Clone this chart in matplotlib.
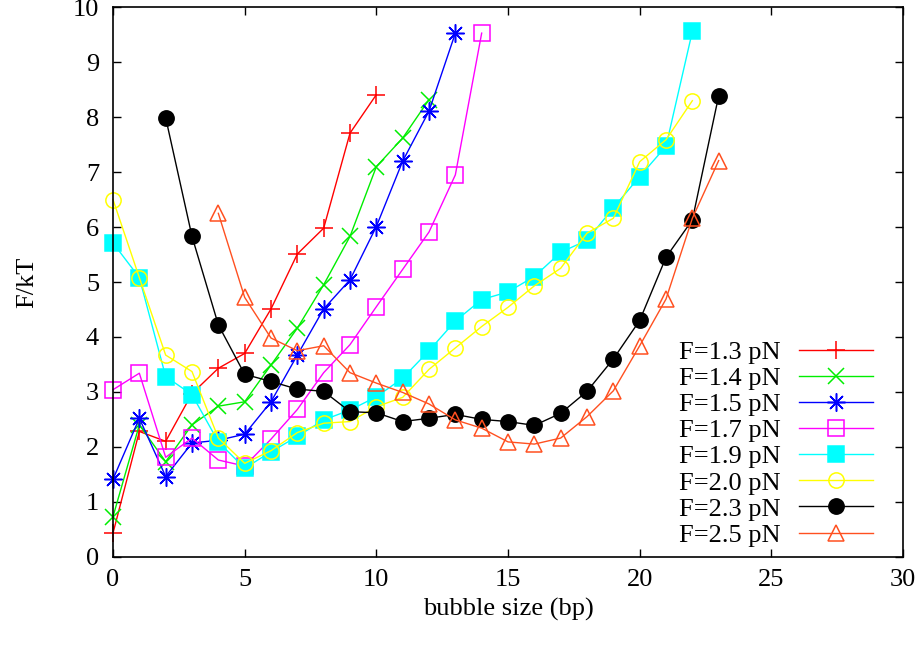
import numpy as np
import matplotlib
matplotlib.use('Agg')
import matplotlib.pyplot as plt

# free energy of a bubble vs bubble size, for several forces
plt.rcParams['font.family'] = ['Liberation Serif', 'DejaVu Serif']
plt.rcParams['font.size'] = 19

labels = ['F=1.3 pN', 'F=1.4 pN', 'F=1.5 pN', 'F=1.7 pN',
          'F=1.9 pN', 'F=2.0 pN', 'F=2.3 pN', 'F=2.5 pN']

x_13 = np.arange(0, 11)
f_13 = [0.43, 2.28, 2.10, 2.97, 3.43, 3.70, 4.51, 5.51, 5.98, 7.71, 8.41]

x_14 = np.arange(0, 13)
f_14 = [0.73, 2.40, 1.73, 2.40, 2.74, 2.82, 3.49, 4.16, 4.95, 5.83, 7.10, 7.62, 8.32]

x_15 = np.arange(0, 14)
f_15 = [1.41, 2.52, 1.46, 2.07, 2.12, 2.23, 2.82, 3.67, 4.51, 5.04, 6.01, 7.20, 8.11, 9.53]

x_17 = np.arange(0, 15)
f_17 = [3.04, 3.34, 1.81, 2.16, 1.76, 1.65, 2.14, 2.68, 3.35, 3.86, 4.55, 5.23, 5.91,
        6.95, 9.53]

x_19 = np.arange(0, 23)
f_19 = [5.71, 5.08, 3.28, 2.95, 2.09, 1.61, 1.91, 2.19, 2.49, 2.67, 2.91, 3.25, 3.75,
        4.29, 4.68, 4.82, 5.10, 5.54, 5.76, 6.35, 6.92, 7.47, 9.56]

x_20 = np.arange(0, 23)
f_20 = [6.50, 5.08, 3.67, 3.37, 2.16, 1.70, 1.93, 2.26, 2.43, 2.46, 2.73, 2.90, 3.41,
        3.80, 4.19, 4.54, 4.93, 5.25, 5.89, 6.16, 7.19, 7.59, 8.30]

x_23 = np.arange(2, 24)
f_23 = [7.99, 5.83, 4.22, 3.32, 3.19, 3.05, 3.01, 2.64, 2.62, 2.46, 2.52, 2.59, 2.50,
        2.46, 2.39, 2.61, 3.01, 3.60, 4.30, 5.45, 6.13, 8.39]

x_25 = np.arange(4, 24)
f_25 = [6.25, 4.72, 3.98, 3.75, 3.84, 3.35, 3.16, 2.99, 2.78, 2.49, 2.34, 2.09, 2.05,
        2.16, 2.55, 3.02, 3.84, 4.69, 6.16, 7.21]

xs = [x_13, x_14, x_15, x_17, x_19, x_20, x_23, x_25]
ys = [f_13, f_14, f_15, f_17, f_19, f_20, f_23, f_25]

colors = ['#ff0000', '#00ee00', '#0000ff', '#ff00ff', '#00ffff', '#ffff00', '#000000', '#ff5020']
# gnuplot style point types
markers = ['+', 'x', (8, 2, 0), 's', 's', 'o', 'o', '^']
filled = [True, True, True, False, True, False, True, False]
msizes = [13, 11, 13, 11, 11, 11, 11, 11]

fig = plt.figure(figsize=(9.24, 6.46), dpi=100)
ax = fig.add_axes([0.1223, 0.1382, 0.855, 0.8505])

for x, y, c, m, fl, ms, lab in zip(xs, ys, colors, markers, filled, msizes, labels):
    ax.plot(x, y, color=c, lw=1.0, marker=m, markersize=ms, markeredgewidth=1.1,
            markerfacecolor=c if fl else 'none', markeredgecolor=c, label=lab,
            clip_on=False)

ax.set_xlim(0, 30)
ax.set_ylim(0, 10)
ax.set_xticks(np.arange(0, 31, 5))
ax.set_yticks(np.arange(0, 11, 1))
ax.tick_params(direction='in', length=6, width=1.0, top=True, right=True)
ax.tick_params(axis='x', pad=9)
ax.tick_params(axis='y', pad=10)
for s in ax.spines.values():
    s.set_linewidth(1.2)
    s.set_zorder(3)

ax.set_xlabel('bubble size (bp)', labelpad=5)
ax.set_ylabel('F/kT', labelpad=25)

ax.legend(loc='lower right', bbox_to_anchor=(0.962, 0.018), frameon=False,
          markerfirst=False, handlelength=2.8, handletextpad=0.7,
          labelspacing=0.1, borderpad=0, borderaxespad=0, numpoints=1)

fig.savefig('out.png', dpi=100)
